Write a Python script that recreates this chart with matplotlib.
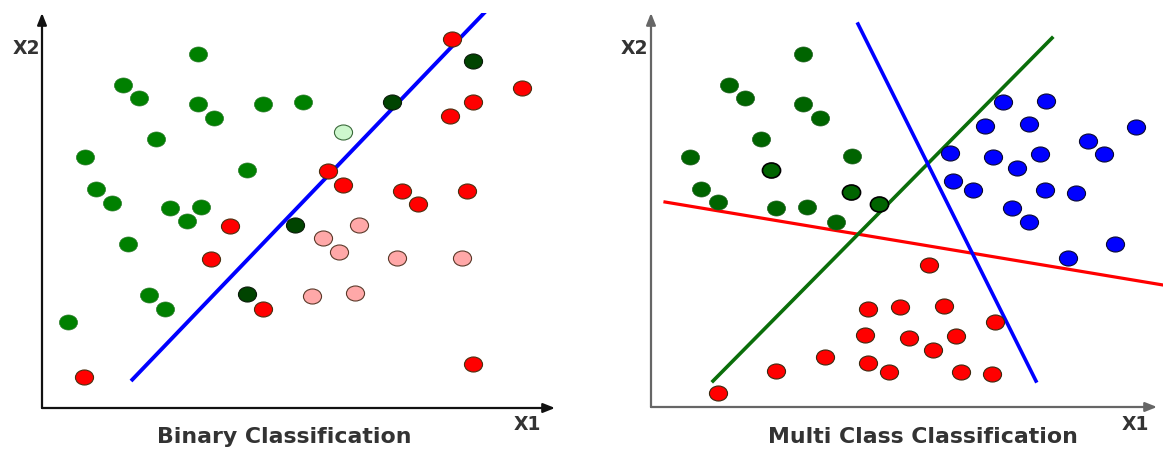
import numpy as np
import matplotlib.pyplot as plt
from matplotlib.path import Path
from matplotlib.transforms import Affine2D

plt.rcParams['font.family'] = ['DejaVu Sans']

# ---- Binary classification (x1, x2) ----
bin_green_x1 = [156, 81, 97, 156, 172, 221, 261, 114, 43, 205, 54, 70, 128, 159, 145, 86, 107, 123, 26]
bin_green_x2 = [354, 323, 310, 304, 290, 304, 306, 269, 251, 238, 219, 205, 200, 201, 187, 164, 113, 99, 86]

bin_red_x1 = [410, 480, 431, 408, 286, 301, 360, 376, 425, 188, 169, 221, 42, 431]
bin_red_x2 = [369, 320, 306, 292, 237, 223, 217, 204, 217, 182, 149, 99, 31, 44]

bin_dkgreen_x1 = [431, 350, 253, 205]
bin_dkgreen_x2 = [347, 306, 183, 114]

bin_ltgreen_x1 = [301]
bin_ltgreen_x2 = [276]

bin_pink_x1 = [317, 281, 297, 355, 420, 270, 313]
bin_pink_x2 = [183, 170, 156, 150, 150, 112, 115]

bin_line_x1 = [89, 444]
bin_line_x2 = [27, 397]

# ---- Multi class classification (x1, x2) ----
mc_green_x1 = [152, 78, 94, 152, 169, 110, 39, 201, 50, 67, 125, 156, 185]
mc_green_x2 = [353, 322, 309, 303, 289, 268, 250, 251, 218, 205, 199, 200, 185]

mc_dkgreen_x1 = [120, 200, 228]
mc_dkgreen_x2 = [237, 215, 203]

mc_blue_x1 = [352, 395, 334, 378, 485, 437, 453, 299, 342, 389, 366, 302, 322, 394, 425, 361, 378, 417, 464]
mc_blue_x2 = [305, 306, 281, 283, 280, 266, 253, 254, 250, 253, 239, 226, 217, 217, 214, 199, 185, 149, 163]

mc_red_x1 = [67, 125, 174, 217, 249, 214, 217, 238, 278, 293, 344, 258, 305, 282, 310, 341]
mc_red_x2 = [14, 36, 50, 98, 100, 72, 44, 35, 142, 101, 85, 69, 71, 57, 35, 33]

mc_red_line = ([14, 512], [205, 122])
mc_green_line = ([62, 401], [26, 369])
mc_blue_line = ([207, 385], [383, 26])

# slightly flattened ellipse marker
ellipse = Path.unit_circle().transformed(Affine2D().scale(1.0, 0.83))
ms = 170

fig = plt.figure(figsize=(11.63, 4.5), dpi=100)


def setup_axes(rect, xmax, ymax, axis_color):
    ax = fig.add_axes(rect)
    ax.set_xlim(0, xmax)
    ax.set_ylim(0, ymax)
    for s in ax.spines.values():
        s.set_visible(False)
    ax.set_xticks([])
    ax.set_yticks([])
    ax.patch.set_alpha(0)
    arrow = dict(arrowstyle='-|>,head_length=0.7,head_width=0.28', color=axis_color,
                 lw=1.6, shrinkA=0, shrinkB=0)
    ax.annotate('', xy=(1, 0), xytext=(0, 0), xycoords='axes fraction', arrowprops=arrow)
    ax.annotate('', xy=(0, 1), xytext=(0, 0), xycoords='axes fraction', arrowprops=arrow)
    return ax


def dots(ax, x, y, face, edge, lw=0.8):
    ax.scatter(x, y, s=ms, marker=ellipse, c=face, edgecolors=edge, linewidths=lw,
               zorder=3, clip_on=False)


# left panel
ax1 = setup_axes([42 / 1163, 42 / 450, 513 / 1163, 395 / 450], 513, 395, '#111111')
ax1.plot(bin_line_x1, bin_line_x2, color='#0000ff', lw=2.8, zorder=2, solid_capstyle='butt')
dots(ax1, bin_green_x1, bin_green_x2, '#008000', '#2a7a2a', 0.5)
dots(ax1, bin_red_x1, bin_red_x2, '#ff0000', '#4a3010')
dots(ax1, bin_dkgreen_x1, bin_dkgreen_x2, '#004400', '#0a1a0a')
dots(ax1, bin_ltgreen_x1, bin_ltgreen_x2, '#cdf7cd', '#3a6a3a')
dots(ax1, bin_pink_x1, bin_pink_x2, '#ffa8a8', '#5a3a2a')

# right panel
ax2 = setup_axes([651 / 1163, 43 / 450, 506 / 1163, 394 / 450], 506, 394, '#666666')
ax2.plot(*mc_red_line, color='#ff0000', lw=2.3, zorder=2, clip_on=False)
ax2.plot(*mc_green_line, color='#0a6e0a', lw=2.6, zorder=2)
ax2.plot(*mc_blue_line, color='#0000ff', lw=2.6, zorder=2)
dots(ax2, mc_green_x1, mc_green_x2, '#006400', '#1f5f1f', 0.5)
dots(ax2, mc_dkgreen_x1, mc_dkgreen_x2, '#006400', '#000000', 1.2)
dots(ax2, mc_blue_x1, mc_blue_x2, '#0000ff', '#0a0a30')
dots(ax2, mc_red_x1, mc_red_x2, '#ff0000', '#3a2a10')

lstyle = dict(fontsize=13.5, fontweight='bold', color='#333333', ha='center', va='center')
tstyle = dict(lstyle, fontsize=15.8)
fig.text(26 / 1163, 1 - 48 / 450, 'X2', **lstyle)
fig.text(527 / 1163, 1 - 425 / 450, 'X1', **lstyle)
fig.text(284 / 1163, 1 - 437 / 450, 'Binary Classification', **tstyle)
fig.text(634 / 1163, 1 - 48 / 450, 'X2', **lstyle)
fig.text(1135 / 1163, 1 - 424 / 450, 'X1', **lstyle)
fig.text(923 / 1163, 1 - 437 / 450, 'Multi Class Classification', **tstyle)

fig.savefig('out.png', dpi=100)
